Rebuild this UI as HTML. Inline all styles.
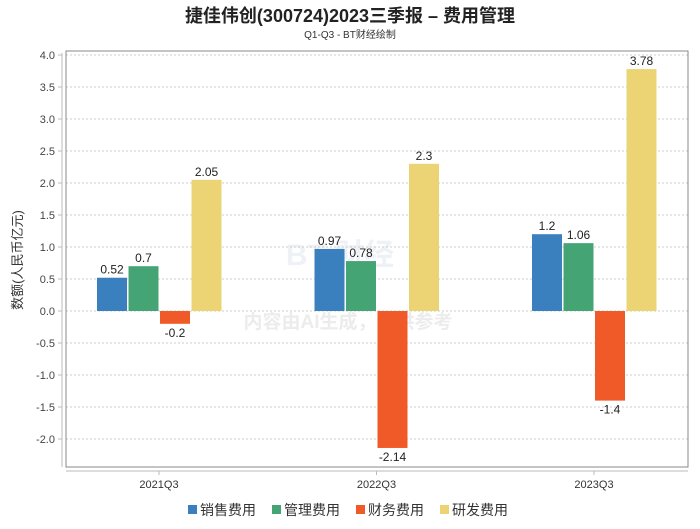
<!DOCTYPE html>
<html><head><meta charset="utf-8"><style>
body{margin:0;background:#fff;width:700px;height:524px;overflow:hidden;font-family:"Liberation Sans","Noto Sans CJK SC",sans-serif}
</style></head><body>
<svg width="700" height="524" xmlns="http://www.w3.org/2000/svg" font-family="Liberation Sans, Noto Sans CJK SC, sans-serif">
<text x="350" y="22" text-anchor="middle" font-size="18" font-weight="bold" fill="#222">捷佳伟创(300724)2023三季报 – 费用管理</text>
<text x="350" y="38" text-anchor="middle" font-size="10" fill="#333">Q1-Q3 - BT财经绘制</text>
<text x="340" y="265" text-anchor="middle" font-size="30" font-weight="bold" fill="#eef1f5">BT 财经</text>
<text x="348" y="328" text-anchor="middle" font-size="19" font-weight="bold" fill="#ececec">内容由AI生成，仅供参考</text>
<g id="grid"></g>
<rect x="66" y="51" width="622" height="416" fill="none" stroke="#888"/>
<line x1="62" y1="53" x2="62" y2="467" stroke="#bbb"/>
<line x1="66" y1="471" x2="688" y2="471" stroke="#bbb"/>
<text transform="translate(22,260) rotate(-90)" text-anchor="middle" font-size="13" fill="#333">数额(人民币亿元)</text>
<g id="bars"></g>
<g id="legend"></g>
</svg>
<script>
const categories=["2021Q3","2022Q3","2023Q3"];
const seriesNames=["销售费用","管理费用","财务费用","研发费用"];
const colors=["#3a80bf","#45a473","#f05a28","#ecd474"];
const sales=[0.52,0.97,1.2];
const admin=[0.7,0.78,1.06];
const finance=[-0.2,-2.14,-1.4];
const rnd=[2.05,2.3,3.78];
const yTicks=[-2.0,-1.5,-1.0,-0.5,0.0,0.5,1.0,1.5,2.0,2.5,3.0,3.5,4.0];
const series=[sales,admin,finance,rnd];
const NS="http://www.w3.org/2000/svg";
function y(v){return 311-v*64;}
function xc(i){return 159+217.5*i;}
function mk(t,a,p){const e=document.createElementNS(NS,t);for(const k in a)e.setAttribute(k,a[k]);p.appendChild(e);return e;}
const grid=document.getElementById('grid'),bars=document.getElementById('bars'),leg=document.getElementById('legend');
yTicks.forEach(v=>{
 const l=mk('line',{x1:66,x2:688,y1:y(v),y2:y(v),stroke:'#ccc','stroke-dasharray':'2,2'},grid);
 
 
 mk('line',{x1:58,x2:62,y1:y(v),y2:y(v),stroke:'#bbb'},grid);
 const t=mk('text',{x:55,y:y(v)+4,'text-anchor':'end','font-size':11,fill:'#444'},grid);
 t.textContent=v.toFixed(1);
 
 
});
categories.forEach((c,i)=>{
 mk('line',{x1:xc(i),x2:xc(i),y1:471,y2:475,stroke:'#bbb'},grid);
 const t=mk('text',{x:xc(i),y:488,'text-anchor':'middle','font-size':11,fill:'#333'},grid);
 t.textContent=c;
 
 
 series.forEach((s,j)=>{
  const v=s[i],bw=30,x0=xc(i)-62+j*31.5;
  const top=Math.min(y(v),y(0)),h=Math.abs(y(v)-y(0));
  const r=mk('rect',{x:x0,y:top,width:bw,height:h,fill:colors[j]},bars);
  
  
  const lt=mk('text',{x:x0+bw/2,y:v>=0?y(v)-4:y(v)+13,'text-anchor':'middle','font-size':12,fill:'#222'},bars);
  lt.textContent=String(v);
  
  
 });
});
const lx=[188,272,356,440];
seriesNames.forEach((n,j)=>{
 const g=mk('g',{},leg);
 
 
 mk('rect',{x:lx[j],y:505,width:9,height:9,fill:colors[j]},g);
 const t=mk('text',{x:lx[j]+12,y:515,'font-size':14,fill:'#333'},g);
 t.textContent=n;
});
</script>
</body></html>
